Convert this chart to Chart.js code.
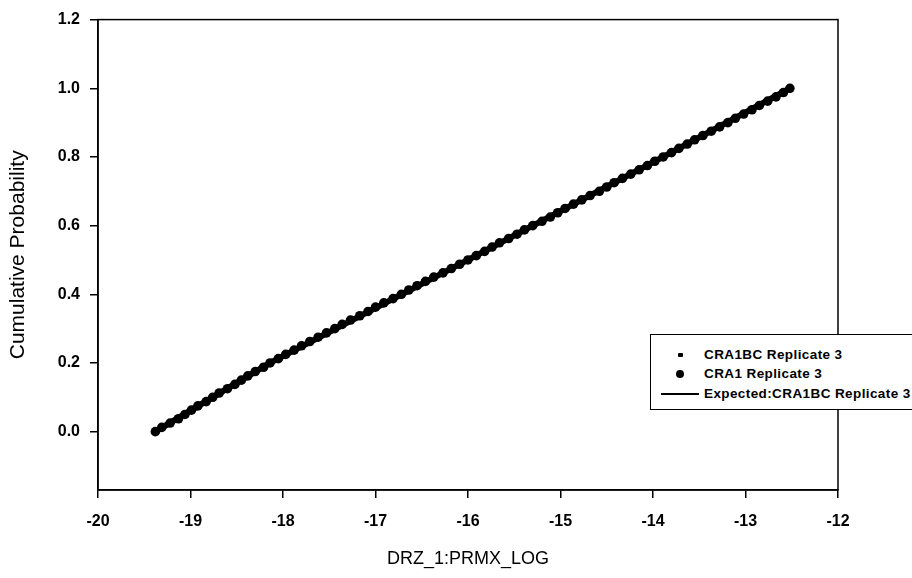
<!DOCTYPE html>
<html>
<head>
<meta charset="utf-8">
<script src="https://cdn.jsdelivr.net/npm/chart.js@4/dist/chart.umd.min.js"></script>
<style>
  body { margin: 0; background: #fff; }
  #wrap { position: relative; width: 912px; height: 578px; overflow: hidden; }
  #legend {
    position: absolute; left: 650px; top: 334px; width: 290px; height: 74px;
    border: 1px solid #000; background: #fff;
    font: bold 13.5px "Liberation Sans", Arial, sans-serif; color: #000;
  }
  #legend .row { position: absolute; left: 0; height: 16px; line-height: 16px; }
  #legend .txt { position: absolute; left: 53px; white-space: nowrap; letter-spacing: 0.4px; }
  #legend .mk { position: absolute; background: #000; }
</style>
</head>
<body>
<div id="wrap">
  <canvas id="cdfChart" width="912" height="578"></canvas>
  <div id="legend"></div>
</div>
<script>
// series names
const seriesNames = ["CRA1BC Replicate 3", "CRA1 Replicate 3", "Expected:CRA1BC Replicate 3"];

// CRA1 Replicate 3 (filled circles)
const cra1X = [-19.38, -19.22, -19.06, -18.92, -18.76, -18.60, -18.45, -18.30, -18.14, -17.97,
  -17.80, -17.62, -17.44, -17.27, -17.08, -16.91, -16.72, -16.55, -16.37, -16.18,
  -16.00, -15.82, -15.66, -15.47, -15.30, -15.11, -14.95, -14.77, -14.58, -14.42,
  -14.24, -14.06, -13.89, -13.72, -13.55, -13.37, -13.19, -13.02, -12.85, -12.67, -12.52];
const cra1Y = [0.000, 0.025, 0.050, 0.075, 0.100, 0.125, 0.150, 0.175, 0.200, 0.225,
  0.250, 0.275, 0.300, 0.325, 0.350, 0.375, 0.400, 0.425, 0.450, 0.475,
  0.500, 0.525, 0.550, 0.575, 0.600, 0.625, 0.650, 0.675, 0.700, 0.725,
  0.750, 0.775, 0.800, 0.825, 0.850, 0.875, 0.900, 0.925, 0.950, 0.975, 1.000];

// CRA1BC Replicate 3 (small markers)
const cra1bcX = [-19.31, -19.13, -18.99, -18.83, -18.69, -18.52, -18.38, -18.21, -18.05, -17.88,
  -17.71, -17.53, -17.36, -17.17, -17.00, -16.81, -16.64, -16.46, -16.27, -16.09,
  -15.91, -15.74, -15.56, -15.39, -15.20, -15.03, -14.86, -14.68, -14.50, -14.33,
  -14.15, -13.98, -13.80, -13.63, -13.46, -13.28, -13.11, -12.93, -12.76, -12.59];
const cra1bcY = [0.0125, 0.0375, 0.0625, 0.0875, 0.1125, 0.1375, 0.1625, 0.1875, 0.2125, 0.2375,
  0.2625, 0.2875, 0.3125, 0.3375, 0.3625, 0.3875, 0.4125, 0.4375, 0.4625, 0.4875,
  0.5125, 0.5375, 0.5625, 0.5875, 0.6125, 0.6375, 0.6625, 0.6875, 0.7125, 0.7375,
  0.7625, 0.7875, 0.8125, 0.8375, 0.8625, 0.8875, 0.9125, 0.9375, 0.9625, 0.9875];

// Expected line
const expectedX = [-19.38, -18.14, -16.00, -13.89, -12.52];
const expectedY = [0.0, 0.2, 0.5, 0.8, 1.0];

// axes
const xTicks = [-20, -19, -18, -17, -16, -15, -14, -13, -12];
const yTicks = [0.0, 0.2, 0.4, 0.6, 0.8, 1.0, 1.2];

const toPoints = (xs, ys) => xs.map((x, i) => ({ x: x, y: ys[i] }));

const boxPlugin = {
  id: "plotBox",
  afterDraw(chart) {
    const a = chart.chartArea;
    const ctx = chart.ctx;
    ctx.save();
    ctx.strokeStyle = "#000";
    ctx.lineWidth = 1.5;
    ctx.strokeRect(a.left, a.top, a.right - a.left, a.bottom - a.top);
    ctx.restore();
  }
};

const ctx = document.getElementById("cdfChart");
new Chart(ctx, {
  type: "scatter",
  data: {
    datasets: [
      {
        label: seriesNames[0],
        data: toPoints(cra1bcX, cra1bcY),
        pointStyle: "circle",
        pointRadius: 4.8,
        backgroundColor: "#000",
        borderColor: "#000",
        borderWidth: 0
      },
      {
        label: seriesNames[1],
        data: toPoints(cra1X, cra1Y),
        pointStyle: "circle",
        pointRadius: 4.8,
        backgroundColor: "#000",
        borderColor: "#000",
        borderWidth: 0
      },
      {
        label: seriesNames[2],
        data: toPoints(expectedX, expectedY),
        showLine: true,
        pointRadius: 0,
        borderColor: "#000",
        borderWidth: 6
      }
    ]
  },
  options: {
    responsive: false,
    animation: false,
    layout: { padding: { top: 17, right: 74, left: 0, bottom: 0 } },
    plugins: { legend: { display: false }, tooltip: { enabled: false } },
    scales: {
      x: {
        type: "linear",
        min: -20,
        max: -12,
        afterBuildTicks: s => { s.ticks = xTicks.map(v => ({ value: v })); },
        afterFit: s => { s.height = 88; },
        grid: { drawOnChartArea: false, drawTicks: true, tickLength: 8, color: "#000", lineWidth: 1.5 },
        border: { color: "#000", width: 1.5 },
        ticks: {
          color: "#000", padding: 14,
          font: { family: "Liberation Sans", size: 16, weight: "bold" },
          callback: v => String(v)
        },
        title: {
          display: true, text: "DRZ_1:PRMX_LOG", color: "#000",
          font: { family: "Liberation Sans", size: 18 }, padding: { top: 4, bottom: 8 }
        }
      },
      y: {
        type: "linear",
        min: -0.17,
        max: 1.2,
        afterBuildTicks: s => { s.ticks = yTicks.map(v => ({ value: v })); },
        afterFit: s => { s.width = 98; },
        grid: { drawOnChartArea: false, drawTicks: true, tickLength: 8, color: "#000", lineWidth: 1.5 },
        border: { color: "#000", width: 1.5 },
        ticks: {
          color: "#000", padding: 10,
          font: { family: "Liberation Sans", size: 16, weight: "bold" },
          callback: v => v.toFixed(1)
        },
        title: {
          display: true, text: "Cumulative Probability", color: "#000",
          font: { family: "Liberation Sans", size: 21 }, padding: { top: 6, bottom: 4 }
        }
      }
    }
  },
  plugins: [boxPlugin]
});

// legend built from the series names
const legend = document.getElementById("legend");
const rowTops = [12, 31, 51];
seriesNames.forEach((name, i) => {
  const row = document.createElement("div");
  row.className = "row";
  row.style.top = rowTops[i] + "px";
  const mk = document.createElement("div");
  mk.className = "mk";
  if (i === 0) {
    mk.style.cssText = "left:27px;top:6px;width:5px;height:4px;border-radius:1px;";
  } else if (i === 1) {
    mk.style.cssText = "left:25px;top:4px;width:8px;height:8px;border-radius:50%;";
  } else {
    mk.style.cssText = "left:10px;top:7px;width:38px;height:2px;";
  }
  const txt = document.createElement("span");
  txt.className = "txt";
  txt.textContent = name;
  row.appendChild(mk);
  row.appendChild(txt);
  legend.appendChild(row);
});
</script>
</body>
</html>
